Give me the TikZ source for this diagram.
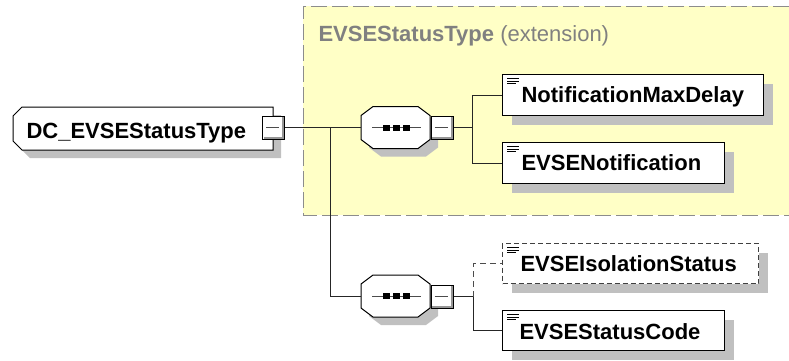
\documentclass[tikz,border=0pt]{standalone}
\usepackage{fontspec}
\setmainfont{Liberation Sans}
\usetikzlibrary{shadows}
\definecolor{shadowgray}{RGB}{192,192,192}
\definecolor{extyellow}{RGB}{255,255,198}
\definecolor{titlegray}{RGB}{128,128,128}
\definecolor{bordergray}{RGB}{140,140,140}
\definecolor{bevelgray}{RGB}{150,150,150}
\begin{document}
\begin{tikzpicture}[x=1pt,y=-1pt,
  line width=1pt,
  elem/.style={draw=black, fill=white, minimum height=41pt, inner sep=0pt, anchor=north west,
    drop shadow={shadow xshift=9pt, shadow yshift=-9pt, fill=shadowgray, opacity=1}},
  optelem/.style={elem, draw=black!75, dash pattern=on 5pt off 3pt},
  etext/.style={anchor=base west, inner sep=0pt, font=\bfseries\fontsize{22}{26}\selectfont},
  minusbox/.style={draw=black, fill=white, minimum width=22pt, minimum height=23pt, inner sep=0pt},
  anchorbox/.style={inner sep=0pt, draw=none},
  conn/.style={draw=black!85, line width=1pt},
  optconn/.style={draw=black!70, line width=1pt, dash pattern=on 6pt off 4pt},
  icon/.style={line width=0.8pt, black},
]
\useasboundingbox (0,0) rectangle (789,360);

% extension area
\fill[extyellow] (303,6) rectangle (789,215);
\draw[bordergray, line width=1pt, dash pattern=on 16pt off 5pt] (789,6) -- (303,6) -- (303,215) -- (789,215);
\node[anchor=base west, inner sep=0pt, text=titlegray, font=\fontsize{22}{26}\selectfont] (title) at (318,41.5) {\textbf{EVSEStatusType} (extension)};

% root element
\node[anchorbox, minimum width=260pt, minimum height=43pt, anchor=north west] (dc) at (13,107) {};
\fill[shadowgray] (30,115) -- (281,115) -- (281,158) -- (30,158) -- (21,149) -- (21,124) -- cycle;
\draw[fill=white] (22,107) -- (273,107) -- (273,150) -- (22,150) -- (13,141) -- (13,116) -- cycle;
\node[etext] (dct) at (26,138) {DC\_EVSEStatusType};
\node[minusbox] (dcm) at (273.5,127.5) {};

% compositor 1
\node[anchorbox, minimum width=69pt, minimum height=42pt] (c1) at (395.5,127.5) {};
\fill[shadowgray] (381,114.5) -- (426,114.5) -- (438,123.5) -- (438,147.5) -- (426,156.5) -- (381,156.5) -- (369,147.5) -- (369,123.5) -- cycle;
\draw[fill=white] (373,106.5) -- (418,106.5) -- (430,115.5) -- (430,139.5) -- (418,148.5) -- (373,148.5) -- (361,139.5) -- (361,115.5) -- cycle;
\draw[black!70] (372,127.5) -- (421,127.5);
\fill (383,124.5) rectangle (389.5,130.5);
\fill (393,124.5) rectangle (399.5,130.5);
\fill (403,124.5) rectangle (409.5,130.5);
\node[minusbox] (c1m) at (442,127.5) {};

% compositor 2
\node[anchorbox, minimum width=69pt, minimum height=42pt] (c2) at (395.5,296) {};
\fill[shadowgray] (381,283) -- (426,283) -- (438,292) -- (438,316) -- (426,325) -- (381,325) -- (369,316) -- (369,292) -- cycle;
\draw[fill=white] (373,275) -- (418,275) -- (430,284) -- (430,308) -- (418,317) -- (373,317) -- (361,308) -- (361,284) -- cycle;
\draw[black!70] (372,296) -- (421,296);
\fill (383,293) rectangle (389.5,299);
\fill (393,293) rectangle (399.5,299);
\fill (403,293) rectangle (409.5,299);
\node[minusbox] (c2m) at (442,296.5) {};

% 3D details and minus signs of the boxes
\foreach \m in {dcm,c1m,c2m}{
  \draw[bevelgray, line width=1.6pt] ([xshift=-1.8pt,yshift=-1.5pt]\m.north east) -- ([xshift=-1.8pt,yshift=1.8pt]\m.south east) -- ([xshift=1.5pt,yshift=1.8pt]\m.south west);
  \draw[black!70, line width=0.8pt] ([xshift=4pt]\m.west) -- ([xshift=-6pt]\m.east);
}

% elements
\node[elem, minimum width=261pt] (nmd) at (502,74) {};
\node[elem, minimum width=222pt] (evn) at (502,142) {};
\node[optelem, minimum width=256pt, minimum height=40pt] (eis) at (502,243) {};
\node[elem, minimum width=222pt, minimum height=40pt] (esc) at (502,310) {};

\node[etext] (nmdt) at ([xshift=19pt,yshift=-28pt]nmd.north west) {NotificationMaxDelay};
\node[etext] (evnt) at ([xshift=19pt,yshift=-28pt]evn.north west) {EVSENotification};
\node[etext] (eist) at ([xshift=18pt,yshift=-28.5pt]eis.north west) {EVSEIsolationStatus};
\node[etext] (esct) at ([xshift=17pt,yshift=-29pt]esc.north west) {EVSEStatusCode};

\foreach \e in {nmd,evn,eis,esc}{
  \draw[icon] ([xshift=5pt,yshift=-4.3pt]\e.north west) -- ++(12,0);
  \draw[icon] ([xshift=5pt,yshift=-7pt]\e.north west) -- ++(12,0);
  \draw[icon] ([xshift=5pt,yshift=-9.7pt]\e.north west) -- ++(9,0);
}

% connectors
\coordinate (j1) at (330,127.5);
\coordinate (j2) at (472,127.5);
\coordinate (j3) at (473,296.5);
\draw[conn] (dcm.east) -- (c1.west);
\draw[conn] (j1) |- (c2.west);
\draw[conn] (c1m.east) -- (j2);
\draw[conn] (j2) |- (nmd.west);
\draw[conn] (j2) |- (evn.west);
\draw[conn] (c2m.east) -- (j3);
\draw[optconn] (j3) |- (eis.west);
\draw[conn] (j3) |- (esc.west);
\end{tikzpicture}
\end{document}
